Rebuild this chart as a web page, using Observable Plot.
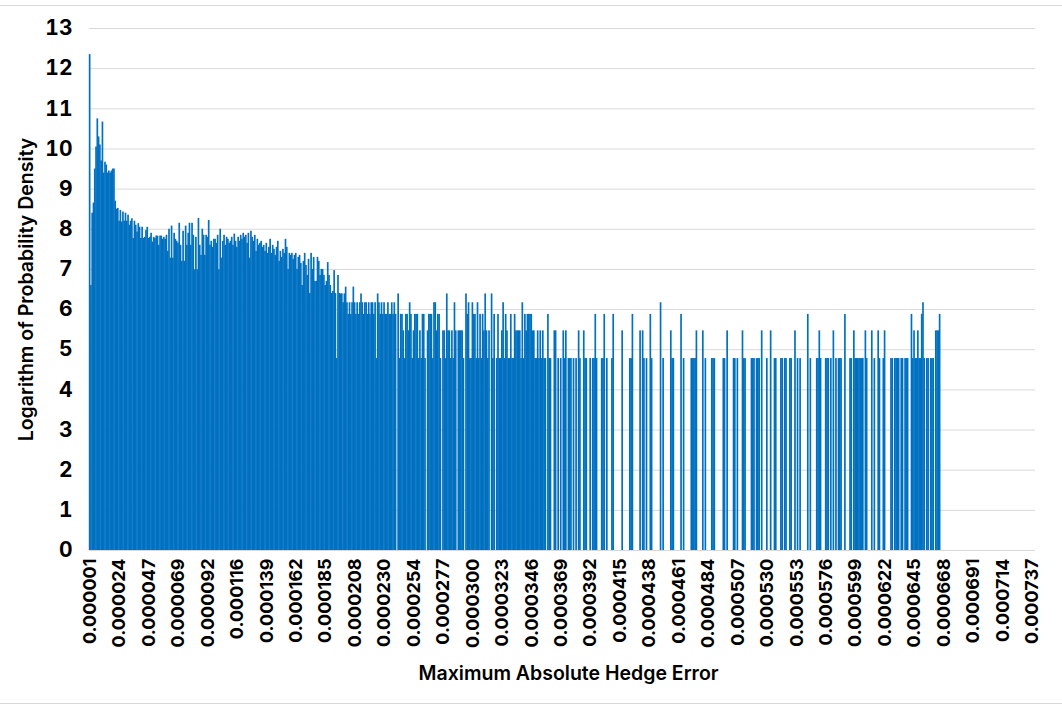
<!DOCTYPE html>
<html>
<head>
<meta charset="utf-8">
<script src="https://cdn.jsdelivr.net/npm/d3@7"></script>
<script src="https://cdn.jsdelivr.net/npm/@observablehq/plot@0.6"></script>
<style>
  body { margin: 0; background: #fff; }
  #frame { position: relative; width: 1062px; height: 708px; overflow: hidden; }
  #frame svg { position: absolute; left: 0; top: 0; }
  .edge { position: absolute; left: 0; width: 1062px; height: 1px; background: #d9d9d9; }
</style>
</head>
<body>
<div id="frame">
  <div class="edge" style="top:5px"></div>
  <div class="edge" style="top:703px"></div>
</div>
<script>
// Logarithm of probability density per bin (bin index 0 = 0.000001)
const logDensity = [
  12.35, 6.6, 8.4, 8.65, 9.5, 10.05, 10.75, 10.3, 10.1, 9.7, 10.67, 9.4, 9.67, 9.6, 9.4, 9.45, 9.4, 9.45, 9.5, 9.5,
  8.7, 8.5, 8.52, 8.2, 8.47, 8.18, 8.43, 8.2, 8.4, 8.2,
  8.35, 8.1, 8.2, 8.26, 7.77, 8.2, 8.1, 7.93, 8.14, 8.05,
  7.77, 8.05, 7.77, 7.8, 7.97, 8.05, 7.77, 7.8, 7.9, 7.68,
  7.8, 7.77, 7.83, 7.83, 7.6, 7.83, 7.83, 7.75, 7.8,
  7.75, 7.85, 7.45, 8.0, 7.28, 8.08, 7.28, 7.9, 7.75, 7.7, 7.65,
  8.15, 7.6, 7.2, 7.95, 7.2, 8.08, 7.6, 7.9, 8.15, 7.6,
  8.15, 7.85, 6.99, 7.8, 6.99, 8.27, 7.6, 7.35, 8.0, 7.85,
  7.35, 7.85, 7.8, 8.22, 7.6, 7.7, 7.55, 7.75, 7.75, 7.65,
  7.85, 6.99, 8.0, 7.28, 7.7, 7.85, 7.6, 7.8, 7.75, 7.65,
  7.7, 7.8, 7.6, 7.88, 7.7, 7.55, 7.8, 7.7,
  7.85, 7.75, 7.9, 7.8, 7.85, 7.65, 7.9, 7.28, 7.95, 7.8, 7.7, 7.85,
  7.45, 7.75, 7.6, 7.65, 7.7, 7.55, 7.6, 7.45, 7.65, 7.4,
  7.55, 7.75, 7.4, 7.6, 7.5, 7.35, 7.55, 7.7, 7.2, 7.45,
  7.3, 7.5, 7.4, 7.75, 7.55, 7.0, 7.4, 7.35, 7.4, 7.25,
  7.35, 7.4, 7.0, 7.3, 7.35, 7.15, 6.6, 7.2, 7.4, 7.1,
  6.85, 7.25, 6.4, 7.4, 7.0, 7.3, 6.7,
  6.7, 7.3, 7.2,
  6.85, 7.0, 7.0, 6.85, 6.6, 6.7, 7.17, 6.85, 6.6, 6.4,
  6.45, 6.97, 6.4, 4.78, 6.85, 6.4, 6.39, 6.39, 6.17, 6.39,
  6.56, 6.17, 5.88, 6.17, 5.88, 6.17, 6.56, 6.17, 5.88, 6.17,
  5.88, 6.17, 6.39, 6.17, 5.88, 6.17, 6.17, 5.88, 6.17, 5.88,
  6.17, 6.17, 5.88, 6.17, 4.78, 6.39, 6.17, 5.88, 6.17, 5.88,
  6.17, 5.88, 5.88, 6.17, 5.88, 5.88, 6.17, 5.88, 6.17, 5.88,
  0, 6.39,
  4.78, 5.88, 5.88, 5.47, 4.78, 5.88, 5.88, 5.47,
  6.17, 5.88, 4.78, 5.47, 5.88, 5.88, 5.88, 4.78, 5.47, 4.78,
  5.88, 5.88, 4.78, 0, 5.47, 5.88, 5.88, 5.88, 4.78, 6.17,
  6.17, 5.47, 5.88, 5.88, 4.78, 0, 5.47, 5.47, 4.78, 6.39,
  5.47, 5.47, 4.78, 5.47, 4.78, 6.17, 5.47, 0, 5.47, 5.47,
  5.47, 5.47, 4.78, 0, 6.39, 5.88, 6.17, 4.78, 4.78, 6.17,
  5.88, 5.88,
  4.78, 6.17, 4.78, 5.88, 4.78, 5.88, 5.47, 6.39,
  5.47, 4.78, 5.47, 0, 6.39, 4.78, 5.88, 0, 4.78, 5.88,
  4.78, 4.78, 5.47, 6.17, 4.78, 5.88, 5.47, 4.78, 4.78, 5.88,
  4.78, 4.78, 5.88, 5.47, 5.47, 5.47, 5.47, 4.78, 6.17, 4.78,
  5.88, 5.47, 5.88, 5.88, 5.88, 5.88, 5.47, 5.47, 4.78, 4.78,
  5.47, 4.78, 5.47, 4.78, 5.47, 4.78, 4.78, 0, 5.88, 4.78, 4.78,
  0, 0, 5.47, 5.47, 0, 4.78, 0, 4.78, 0,
  5.47, 4.78, 5.47, 0, 4.78, 4.78, 4.78, 0, 4.78, 0,
  4.78, 0, 5.47, 4.78, 0, 0, 5.47, 4.78, 4.78, 0,
  0, 4.78, 0, 4.78, 4.78, 5.88, 4.78, 0, 0, 0,
  4.78, 4.78, 5.88, 0, 4.78, 0, 0, 0, 4.78, 5.88,
  0, 0, 0, 0, 0, 0, 5.47, 0, 0, 0, 0,
  0, 4.78, 4.78, 5.88, 0, 0, 0, 0, 0,
  5.47, 0, 5.47, 4.78, 0, 4.78, 0, 0, 5.88, 4.78,
  0, 0, 0, 0, 0, 0, 6.17, 0, 4.78, 0,
  0, 0, 0, 0, 5.47, 4.78, 4.78, 0, 0, 0,
  0, 0, 5.88, 0, 4.78, 0, 0, 0, 0, 0,
  4.78, 4.78, 4.78, 4.78, 5.47, 0, 0, 0, 0, 5.47,
  0, 4.78, 0, 0, 0, 0, 4.78, 4.78, 4.78, 0,
  0, 0, 0, 0, 0, 4.78, 4.78, 0, 5.47, 0,
  0, 0, 0, 4.78, 4.78, 0, 4.78, 0, 0, 0,
  5.47, 4.78, 4.78, 0, 0, 0, 0, 4.78, 4.78, 4.78,
  0, 4.78, 4.78, 4.78, 0, 5.47, 0, 0, 0, 4.78,
  0, 0, 5.47, 0, 0, 4.78,
  4.78, 0, 0, 0,
  4.78, 4.78, 0, 4.78, 4.78, 0, 0, 4.78, 4.78, 0,
  0, 5.47, 0, 4.78, 0, 4.78, 0, 0, 0, 0,
  0, 5.88, 0, 4.78, 0, 0, 0, 0, 4.78, 4.78,
  5.47, 4.78, 0, 0, 0, 4.78, 4.78, 4.78, 0, 4.78,
  0, 5.47, 0, 4.78, 0, 4.78, 4.78, 4.78, 0, 0,
  5.88, 0, 0, 0, 4.78, 4.78, 0, 5.47, 4.78,
  4.78, 4.78, 4.78, 4.78, 4.78, 4.78,
  0, 5.47, 4.78, 0, 0,
  0, 5.47, 0, 4.78, 0, 0, 5.47, 4.78, 0, 0,
  4.78, 5.47, 0, 0, 0, 0, 4.78, 4.78, 0, 4.78,
  4.78, 4.78, 4.78, 0, 4.78, 4.78, 0, 4.78, 4.78, 4.78,
  0, 0, 5.88, 4.78, 5.47, 4.78, 4.78, 5.47, 4.78, 4.78,
  5.88, 6.17, 4.78, 0, 4.78, 4.78, 0, 4.78, 4.78, 4.78,
  0, 5.47, 5.47, 5.47, 5.88
];

// Total number of bins on the category axis (later bins are empty)
const binCount = 739;

// Category tick labels, shown on every 23rd bin
const tickLabels = [
  "0.000001", "0.000024", "0.000047", "0.000069", "0.000092", "0.000116",
  "0.000139", "0.000162", "0.000185", "0.000208", "0.000230", "0.000254",
  "0.000277", "0.000300", "0.000323", "0.000346", "0.000369", "0.000392",
  "0.000415", "0.000438", "0.000461", "0.000484", "0.000507", "0.000530",
  "0.000553", "0.000576", "0.000599", "0.000622", "0.000645", "0.000668",
  "0.000691", "0.000714", "0.000737"
];
const tickEvery = 23;

const yTicks = [0, 1, 2, 3, 4, 5, 6, 7, 8, 9, 10, 11, 12, 13];

const yTitle = "Logarithm of Probability Density";
const xTitle = "Maximum Absolute Hedge Error";

const bins = logDensity.map((v, i) => ({ bin: i, v }));
const tickBins = tickLabels.map((_, k) => k * tickEvery);

const FONT = "Inter, 'Open Sans', 'Liberation Sans', sans-serif";

const chart = Plot.plot({
  width: 1062,
  height: 708,
  marginLeft: 89,
  marginRight: 27,
  marginTop: 28,
  marginBottom: 158,
  style: { fontFamily: FONT, color: "#000", background: "transparent", overflow: "visible" },
  x: { type: "band", domain: d3.range(binCount), padding: 0, round: false, axis: null },
  y: { domain: [0, 13], axis: null },
  marks: [
    Plot.gridY(yTicks, { stroke: "#d9d9d9", strokeOpacity: 1, strokeWidth: 1 }),
    Plot.barY(bins, { x: "bin", y: "v", fill: "#0070c0", insetLeft: -0.2, insetRight: -0.2 }),
    Plot.axisY(yTicks, {
      tickSize: 0, tickPadding: 17, fontSize: 21, fontWeight: "bold", label: null
    }),
    Plot.axisX(tickBins, {
      tickSize: 0, tickPadding: 8, tickRotate: -90, fontSize: 18, fontWeight: "bold",
      tickFormat: (d) => tickLabels[tickBins.indexOf(d)], label: null
    }),
    Plot.text([yTitle], {
      frameAnchor: "left", dx: -63, rotate: -90, textAnchor: "middle",
      fontSize: 19.5, fontWeight: 600, fill: "#000"
    }),
    Plot.text([xTitle], {
      frameAnchor: "bottom", dy: 129, dx: 6, textAnchor: "middle",
      fontSize: 19.5, fontWeight: 600, fill: "#000"
    })
  ]
});

document.getElementById("frame").appendChild(chart);
</script>
</body>
</html>
